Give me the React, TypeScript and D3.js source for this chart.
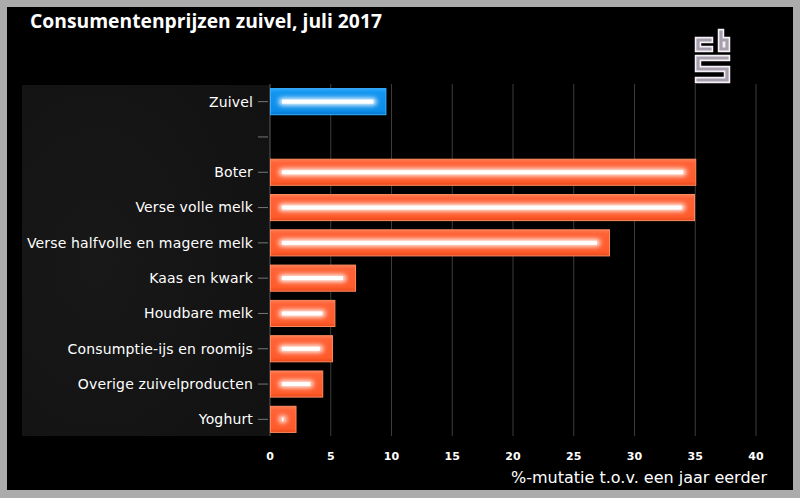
import React from "react";
import * as d3 from "d3";

const categories = [
  "Zuivel",
  "",
  "Boter",
  "Verse volle melk",
  "Verse halfvolle en magere melk",
  "Kaas en kwark",
  "Houdbare melk",
  "Consumptie-ijs en roomijs",
  "Overige zuivelproducten",
  "Yoghurt",
];
const values: (number | null)[] = [9.5, null, 35.0, 34.9, 27.9, 7.0, 5.3, 5.1, 4.3, 2.1];
const highlight = [true, false, false, false, false, false, false, false, false, false];
const xTicks = [0, 5, 10, 15, 20, 25, 30, 35, 40];

const W = 800;
const H = 498;

export default function App() {
  const x = d3.scaleLinear().domain([0, 40]).range([270, 756]);
  const keys = categories.map((c, i) => i + ":" + c);
  const y = d3.scaleBand<string>().domain(keys).range([84, 437]).paddingInner(0.26).paddingOuter(0.13);

  return (
    <svg width={W} height={H} style={{ position: "absolute", left: 0, top: 0, display: "block" }}>
      <defs>
        <linearGradient id="gOrange" x1="0" y1="0" x2="0" y2="1">
          <stop offset="0" stopColor="#ff7a50" />
          <stop offset="0.15" stopColor="#ff6236" />
          <stop offset="0.85" stopColor="#ff5a2a" />
          <stop offset="1" stopColor="#e84a1c" />
        </linearGradient>
        <linearGradient id="gBlue" x1="0" y1="0" x2="0" y2="1">
          <stop offset="0" stopColor="#2aa8ff" />
          <stop offset="0.15" stopColor="#1396f0" />
          <stop offset="0.85" stopColor="#0a8ce8" />
          <stop offset="1" stopColor="#0878d0" />
        </linearGradient>
        <filter id="glow" x="-50%" y="-200%" width="200%" height="500%">
          <feGaussianBlur stdDeviation="2.4" />
        </filter>
        <radialGradient id="panelG" cx="0.3" cy="0.5" r="0.8">
          <stop offset="0" stopColor="#181818" />
          <stop offset="1" stopColor="#121212" />
        </radialGradient>
      </defs>
      <rect x={0} y={0} width={W} height={H} fill="#ababab" />
      <rect x={7} y={7} width={786} height={483} fill="#000" />
      <text x={30} y={28} fill="#fff" fontFamily="'Open Sans', sans-serif" fontWeight={700} fontSize={19.3}>
        Consumentenprijzen zuivel, juli 2017
      </text>

      {/* CBS logo */}
      <g fill="none" strokeLinecap="square" strokeLinejoin="miter">
        {["M710,40 H698 V49 H710", "M721,32 V49 H727 V40 H721", "M727,58 H698 V69 H727 V80 H698"].map((d, i) => (
          <g key={i}>
            <path d={d} stroke="#f4f0f6" strokeWidth={6.5} />
            <path d={d} stroke="#a89fae" strokeWidth={3.2} />
          </g>
        ))}
      </g>

      {/* label panel */}
      <rect x={22} y={85} width={248} height={351} fill="url(#panelG)" />

      {/* grid */}
      {xTicks.map((t) => (
        <line key={t} x1={x(t)} x2={x(t)} y1={84} y2={436} stroke={t === 0 ? "#5a5a5a" : "#3c3c3c"} strokeWidth={1} />
      ))}

      {/* bars */}
      {keys.map((k, i) => {
        const v = values[i];
        const yy = y(k)!;
        const bh = y.bandwidth();
        const cy = yy + bh / 2;
        return (
          <g key={k}>
            <line x1={258} x2={268} y1={cy} y2={cy} stroke="#777" strokeWidth={1} />
            <text x={253} y={cy} dy="0.35em" textAnchor="end" fill="#fff" fontFamily="'DejaVu Sans', sans-serif" fontSize={14} letterSpacing={0.15}>
              {categories[i]}
            </text>
            {v != null && (
              <g>
                <rect x={x(0) + 0.5} y={yy} width={x(v) - x(0)} height={bh} fill={highlight[i] ? "url(#gBlue)" : "url(#gOrange)"} stroke={highlight[i] ? "#3cb0ff" : "#ff8a60"} strokeWidth={1} />
                <rect
                  x={x(0) + 9}
                  y={cy - 3.5}
                  width={Math.max(3, x(v) - x(0) - 18)}
                  height={7}
                  rx={3}
                  fill="#fff"
                  filter="url(#glow)"
                />
                <rect
                  x={x(0) + 12}
                  y={cy - 2}
                  width={Math.max(0, x(v) - x(0) - 24)}
                  height={4}
                  fill="#fff"
                />
              </g>
            )}
          </g>
        );
      })}

      {/* x axis labels */}
      {xTicks.map((t) => (
        <text key={t} x={x(t)} y={460} textAnchor="middle" fill="#fff" fontFamily="'DejaVu Sans', sans-serif" fontWeight={700} fontSize={11}>
          {t}
        </text>
      ))}
      <text x={767} y={483} textAnchor="end" fill="#fff" fontFamily="'DejaVu Sans', sans-serif" fontSize={16}>
        %-mutatie t.o.v. een jaar eerder
      </text>
    </svg>
  );
}
